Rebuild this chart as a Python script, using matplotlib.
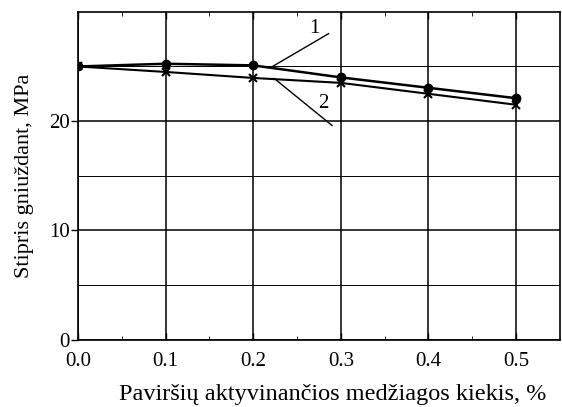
import numpy as np
import matplotlib.pyplot as plt

plt.rcParams['font.family'] = ['Liberation Serif', 'DejaVu Serif']

kiekis = [0.0, 0.1, 0.2, 0.3, 0.4, 0.5]
stipris_1 = [25.0, 25.25, 25.1, 24.0, 23.05, 22.1]
stipris_2 = [25.0, 24.5, 23.95, 23.5, 22.5, 21.5]

fig = plt.figure(figsize=(5.62, 4.07), dpi=100)
ax = fig.add_axes([0.139, 0.165, 0.857, 0.806])

ax.plot(kiekis, stipris_1, color='black', lw=1.8, marker='o', ms=6, zorder=3)
ax.plot(kiekis, stipris_2, color='black', lw=1.5, marker='x', ms=6, mew=1.5, zorder=3)

# numbered leader lines
ax.plot([0.222, 0.286], [25.0, 28.0], color='black', lw=1)
ax.plot([0.224, 0.29], [23.9, 19.6], color='black', lw=1)
ax.text(0.27, 28.5, '1', fontsize=15, ha='center', va='center')
ax.text(0.28, 21.6, '2', fontsize=15, ha='center', va='center')

ax.set_xlim(0, 0.55)
ax.set_ylim(0, 30)
ax.set_xticks([0.0, 0.1, 0.2, 0.3, 0.4, 0.5])
ax.set_xticks(np.arange(0.05, 0.55, 0.1), minor=True)
ax.set_yticks([0, 10, 20])
ax.set_yticks([5, 15, 25], minor=True)
ax.set_xticklabels(['0.0', '0.1', '0.2', '0.3', '0.4', '0.5'])
ax.tick_params(axis='both', which='major', labelsize=15, length=5, direction='out', width=1)
ax.tick_params(axis='x', which='major', direction='in', top=True, pad=9)
ax.tick_params(axis='x', which='minor', direction='in', length=3, top=True)
ax.tick_params(axis='y', which='minor', length=0)
ax.tick_params(axis='y', pad=1)

ax.grid(True, which='major', color='black', lw=1.1)
ax.grid(True, which='minor', axis='y', color='black', lw=0.7)
for s in ax.spines.values():
    s.set_linewidth(1.2)

ax.set_ylabel('Stipris gniuždant, MPa', fontsize=16, labelpad=11)
ax.set_xlabel('Paviršių aktyvinančios medžiagos kiekis, %', fontsize=17.5, ha='right')
ax.xaxis.set_label_coords(0.973, -0.135)
ax.xaxis.label.set_va('top')

plt.savefig('out.png', dpi=100)
